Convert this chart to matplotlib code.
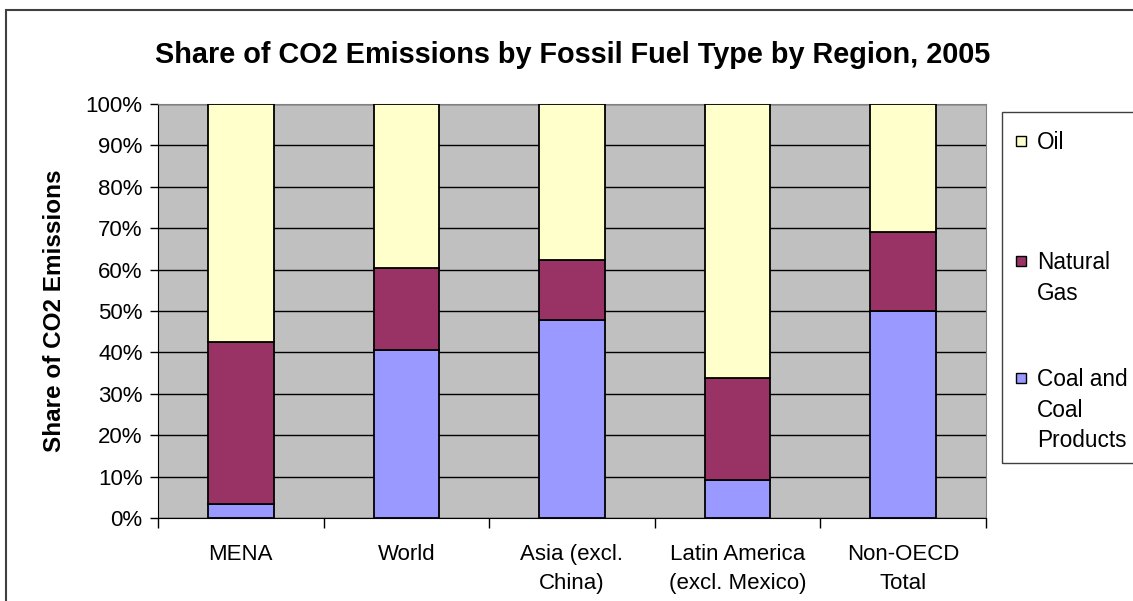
import numpy as np
import matplotlib
matplotlib.use("Agg")
import matplotlib.pyplot as plt
from matplotlib.patches import Rectangle
from matplotlib.ticker import PercentFormatter

plt.rcParams['font.family'] = ['Liberation Sans', 'DejaVu Sans']

# dados (fracao do total)
regioes = ['MENA', 'World', 'Asia (excl.\nChina)', 'Latin America\n(excl. Mexico)', 'Non-OECD\nTotal']
carvao = [0.034, 0.407, 0.478, 0.092, 0.499]
gas = [0.391, 0.197, 0.144, 0.245, 0.193]
oleo = [0.575, 0.396, 0.378, 0.663, 0.308]

series = ['Coal and\nCoal\nProducts', 'Natural\nGas', 'Oil']
cores = ['#9999FF', '#993366', '#FFFFCC']

W, H = 1133, 601
fig = plt.figure(figsize=(W / 100, H / 100), dpi=100)
ax = fig.add_axes([158 / W, 1 - 518 / H, (986 - 158) / W, (518 - 104) / H])
ax.set_facecolor('#C0C0C0')

x = np.arange(len(regioes))
base = np.zeros(len(regioes))
for vals, cor in zip([carvao, gas, oleo], cores):
    ax.bar(x, vals, width=0.395, bottom=base, color=cor, edgecolor='black', linewidth=1.3, zorder=3)
    base = base + np.array(vals)

ax.set_xlim(-0.5, len(regioes) - 0.5)
ax.set_ylim(0, 1)
ax.set_yticks(np.arange(0, 1.01, 0.1))
ax.yaxis.set_major_formatter(PercentFormatter(1.0, decimals=0))
ax.grid(axis='y', color='black', linewidth=1, zorder=1)
ax.set_axisbelow(True)

ax.set_xticks(x, regioes)
ax.set_xticks(np.arange(-0.5, len(regioes), 1), minor=True)
ax.tick_params(axis='x', which='major', length=0, pad=19, labelsize=16)
ax.tick_params(axis='x', which='minor', length=7, width=1, direction='out')
ax.tick_params(axis='y', length=6, width=1, direction='out', pad=5, labelsize=16)
for lab in ax.get_xticklabels():
    lab.set_linespacing(1.5)

for s in ['top', 'right']:
    ax.spines[s].set_color('#808080')
for s in ['left', 'bottom']:
    ax.spines[s].set_color('black')

ax.set_ylabel('Share of CO2 Emissions', fontsize=17.5, fontweight='bold', labelpad=14)

fig.text(573 / W, 1 - 55 / H, 'Share of CO2 Emissions by Fossil Fuel Type by Region, 2005',
         ha='center', va='center', fontsize=20.8, fontweight='bold')

# borda externa do grafico
fig.add_artist(Rectangle((6 / W, -0.1), 1.2, 1 - 10 / H + 0.1, transform=fig.transFigure,
                         fill=False, edgecolor='#404040', linewidth=1.5))

# legenda desenhada a mao (estilo Excel)
fig.add_artist(Rectangle((1002 / W, 1 - 463 / H), 0.5, (463 - 112) / H, transform=fig.transFigure,
                         fill=False, edgecolor='#404040', linewidth=1))
ys_leg = [378, 261, 141]
for nome, cor, yy in zip(series, cores, ys_leg):
    fig.add_artist(Rectangle((1016 / W, 1 - (yy + 5) / H), 10 / W, 10 / H, transform=fig.transFigure,
                             facecolor=cor, edgecolor='black', linewidth=1))
    fig.text(1037 / W, 1 - (yy - 10) / H, nome, ha='left', va='top', fontsize=16.3, linespacing=1.43)

fig.savefig('out.png', dpi=100)
